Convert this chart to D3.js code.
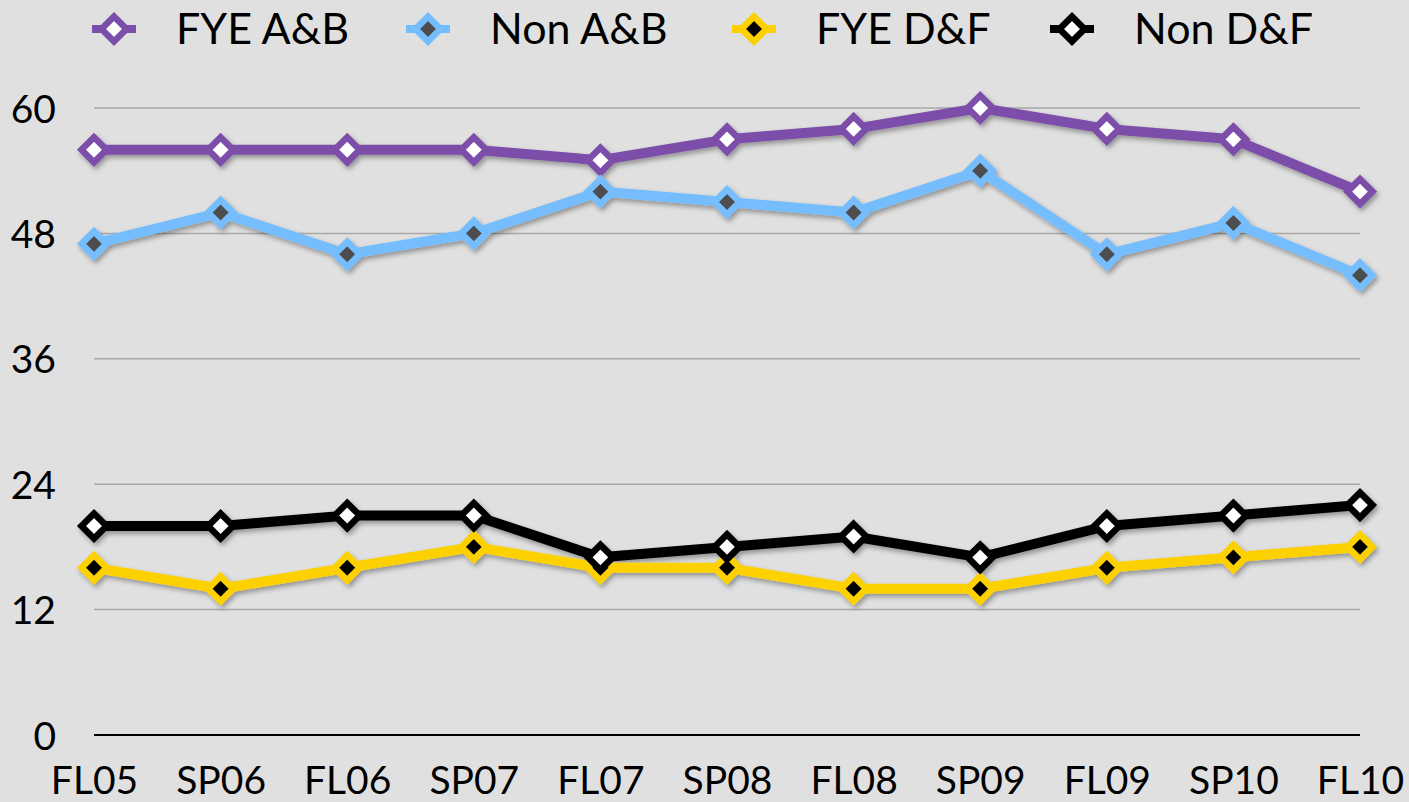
<!DOCTYPE html>
<html>
<head>
<meta charset="utf-8">
<script src="https://cdn.jsdelivr.net/npm/d3@7"></script>
<style>
  body { margin: 0; background: #e0e0e0; }
  text { font-family: "Lato", "Open Sans", sans-serif; fill: #000; }
</style>
</head>
<body>
<script>
// data
var terms = ["FL05", "SP06", "FL06", "SP07", "FL07", "SP08", "FL08", "SP09", "FL09", "SP10", "FL10"];
var fyeAB = [56, 56, 56, 56, 55, 57, 58, 60, 58, 57, 52];
var nonAB = [47, 50, 46, 48, 52, 51, 50, 54, 46, 49, 44];
var fyeDF = [16, 14, 16, 18, 16, 16, 14, 14, 16, 17, 18];
var nonDF = [20, 20, 21, 21, 17, 18, 19, 17, 20, 21, 22];
var yTicks = [0, 12, 24, 36, 48, 60];

var series = [
  { name: "FYE A&B", values: fyeAB, colour: "#7b4ea9", inner: "#ffffff", legendX: 114 },
  { name: "Non A&B", values: nonAB, colour: "#74bdfc", inner: "#4d4d4d", legendX: 428 },
  { name: "FYE D&F", values: fyeDF, colour: "#fdd000", inner: "#000000", legendX: 754 },
  { name: "Non D&F", values: nonDF, colour: "#000000", inner: "#ffffff", legendX: 1072 }
];

// dimensions
var width = 1409;
var height = 802;
var margin = { top: 108, bottom: 67, left: 94, right: 49 };

var svg = d3.select("body")
    .append("svg")
    .attr("width", width)
    .attr("height", height);

svg.append("rect")
    .attr("width", width)
    .attr("height", height)
    .attr("fill", "#e0e0e0");

// drop shadow
var defs = svg.append("defs");
var filter = defs.append("filter")
    .attr("id", "shadow")
    .attr("x", "-20%").attr("y", "-20%")
    .attr("width", "140%").attr("height", "140%");
filter.append("feDropShadow")
    .attr("dx", 2).attr("dy", 3)
    .attr("stdDeviation", 2.5)
    .attr("flood-color", "#000")
    .attr("flood-opacity", 0.35);

var x = d3.scalePoint()
    .domain(terms)
    .range([margin.left, width - margin.right]);

var y = d3.scaleLinear()
    .domain([0, 60])
    .range([height - margin.bottom, margin.top]);

// gridlines
svg.selectAll(".grid")
    .data(yTicks.filter(function(d) { return d > 0; }))
    .enter().append("line")
    .attr("class", "grid")
    .attr("x1", margin.left)
    .attr("x2", width - margin.right)
    .attr("y1", function(d) { return y(d); })
    .attr("y2", function(d) { return y(d); })
    .attr("stroke", "#a9a9a9")
    .attr("stroke-width", 1.5);

// baseline
svg.append("line")
    .attr("x1", margin.left)
    .attr("x2", width - margin.right)
    .attr("y1", y(0))
    .attr("y2", y(0))
    .attr("stroke", "#000")
    .attr("stroke-width", 2);

// y labels
var yAxis = d3.axisLeft(y).tickValues(yTicks).tickSize(0).tickPadding(0);
var gy = svg.append("g")
    .attr("transform", "translate(56,0)")
    .call(yAxis);
gy.select(".domain").remove();
gy.selectAll("text")
    .style("font-size", "39px")
    .attr("dy", "0.36em")
    .attr("fill", "#000");

// x labels
var xAxis = d3.axisBottom(x).tickSize(0).tickPadding(0);
var gx = svg.append("g")
    .attr("transform", "translate(0,794)")
    .call(xAxis);
gx.select(".domain").remove();
gx.selectAll("text")
    .style("font-size", "39px")
    .attr("dy", "0")
    .attr("fill", "#000");

var line = d3.line()
    .x(function(d, i) { return x(terms[i]); })
    .y(function(d) { return y(d); });

function diamond(r) {
  return "M0," + (-r) + "L" + r + ",0L0," + r + "L" + (-r) + ",0Z";
}

var plot = svg.append("g").attr("filter", "url(#shadow)");

series.forEach(function(s) {
  var g = plot.append("g");
  g.append("path")
      .datum(s.values)
      .attr("d", line)
      .attr("fill", "none")
      .attr("stroke", s.colour)
      .attr("stroke-width", 10)
      .attr("stroke-linejoin", "round");

  g.selectAll(".pt")
      .data(s.values)
      .enter().append("path")
      .attr("class", "pt")
      .attr("d", diamond(12.5))
      .attr("transform", function(d, i) {
        return "translate(" + x(terms[i]) + "," + y(d) + ")";
      })
      .attr("fill", s.inner)
      .attr("stroke", s.colour)
      .attr("stroke-width", 6.5)
      .attr("stroke-linejoin", "miter");
});

// legend
var legend = svg.selectAll(".legend")
    .data(series)
    .enter().append("g")
    .attr("class", "legend")
    .attr("transform", function(d) { return "translate(" + d.legendX + ",29)"; });

legend.append("line")
    .attr("x1", -22).attr("x2", 22)
    .attr("stroke", function(d) { return d.colour; })
    .attr("stroke-width", 8);

legend.append("path")
    .attr("d", diamond(12.5))
    .attr("fill", function(d) { return d.inner; })
    .attr("stroke", function(d) { return d.colour; })
    .attr("stroke-width", 6.5);

legend.append("text")
    .attr("x", 62)
    .attr("y", 15)
    .style("font-size", "43px")
    .text(function(d) { return d.name; });
</script>
</body>
</html>
